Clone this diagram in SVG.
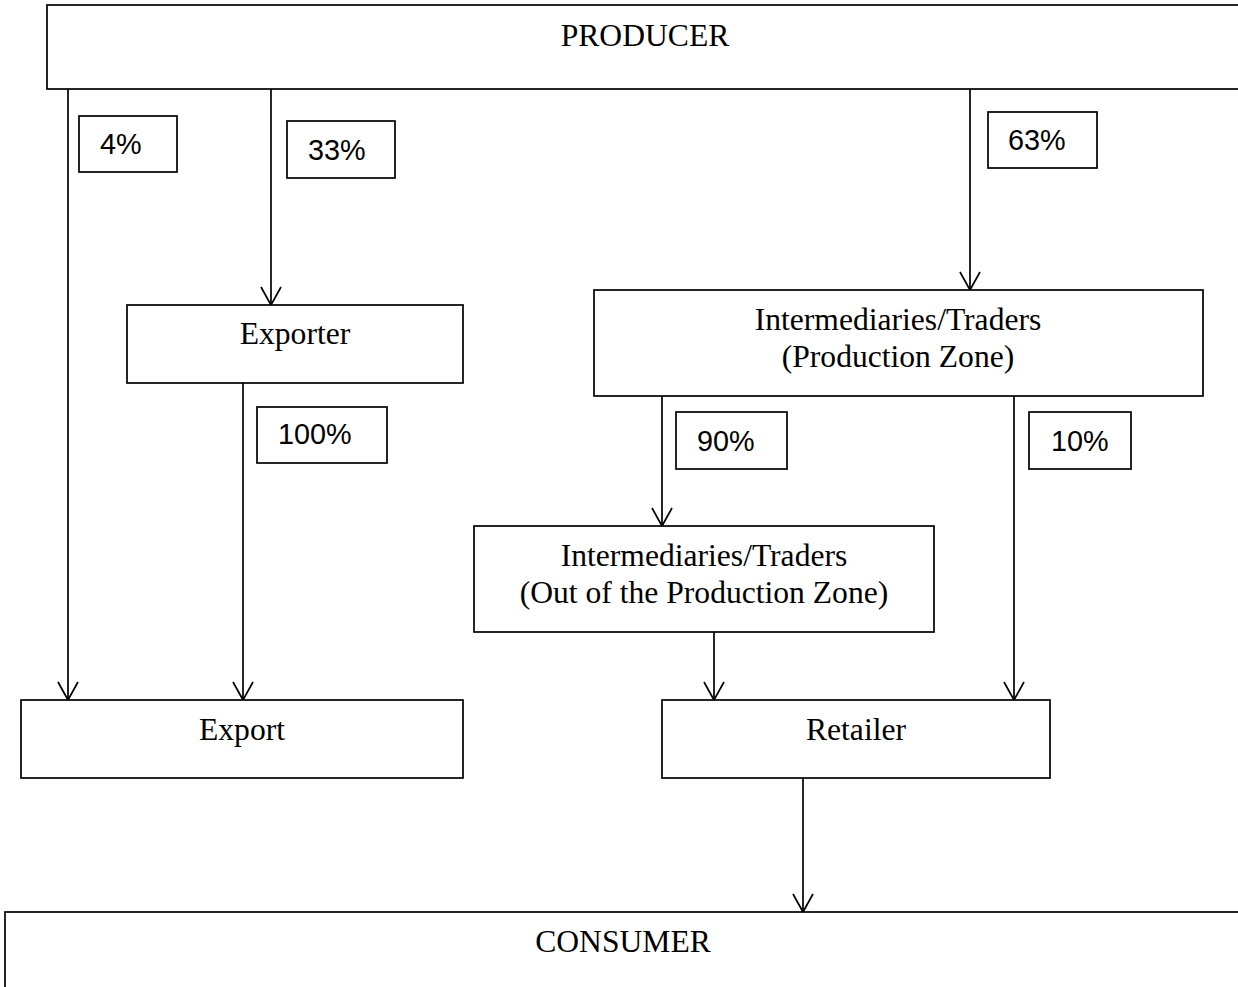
<svg xmlns="http://www.w3.org/2000/svg" width="1238" height="987" viewBox="0 0 1238 987">
<style>
.box{fill:#fff;stroke:#000;stroke-width:1.7}
.lbl{fill:#fff;stroke:#000;stroke-width:1.7}
.t{font-family:"Liberation Serif","Times New Roman",serif;font-size:31.6px;fill:#000;text-anchor:middle}
.p{font-family:"Liberation Sans",Arial,sans-serif;font-size:28.8px;fill:#000}
.c{stroke:#000;stroke-width:1.7;fill:none}
</style>
<defs>
<marker id="ah" markerWidth="24" markerHeight="22" refX="11" refY="19" orient="0" markerUnits="userSpaceOnUse">
<path d="M1,1 L11,19 L21,1" fill="none" stroke="#000" stroke-width="1.7"/>
</marker>
</defs>
<rect width="1238" height="987" fill="#fff"/>
<g id="connectors">
<line class="c" x1="68" y1="89" x2="68" y2="700" marker-end="url(#ah)"/>
<line class="c" x1="271" y1="89" x2="271" y2="305" marker-end="url(#ah)"/>
<line class="c" x1="970" y1="89" x2="970" y2="290" marker-end="url(#ah)"/>
<line class="c" x1="243" y1="383" x2="243" y2="700" marker-end="url(#ah)"/>
<line class="c" x1="662" y1="396" x2="662" y2="526" marker-end="url(#ah)"/>
<line class="c" x1="1014" y1="396" x2="1014" y2="700" marker-end="url(#ah)"/>
<line class="c" x1="714" y1="632" x2="714" y2="700" marker-end="url(#ah)"/>
<line class="c" x1="803" y1="778" x2="803" y2="912" marker-end="url(#ah)"/>
</g>
<g id="producer">
<rect class="box" x="47" y="5" width="1200" height="84"/>
<text class="t" x="645" y="46">PRODUCER</text>
</g>
<g id="label-4">
<rect class="lbl" x="79" y="116" width="98" height="56"/>
<text class="p" x="100" y="154">4%</text>
</g>
<g id="label-33">
<rect class="lbl" x="287" y="121" width="108" height="57"/>
<text class="p" x="308" y="160">33%</text>
</g>
<g id="label-63">
<rect class="lbl" x="988" y="112" width="109" height="56"/>
<text class="p" x="1008" y="150">63%</text>
</g>
<g id="exporter">
<rect class="box" x="127" y="305" width="336" height="78"/>
<text class="t" x="295" y="344">Exporter</text>
</g>
<g id="label-100">
<rect class="lbl" x="257" y="407" width="130" height="56"/>
<text class="p" x="278" y="444">100%</text>
</g>
<g id="intermediaries-pz">
<rect class="box" x="594" y="290" width="609" height="106"/>
<text class="t" x="898" y="330">Intermediaries/Traders</text>
<text class="t" x="898" y="367">(Production Zone)</text>
</g>
<g id="label-90">
<rect class="lbl" x="676" y="412" width="111" height="57"/>
<text class="p" x="697" y="451">90%</text>
</g>
<g id="label-10">
<rect class="lbl" x="1029" y="412" width="102" height="57"/>
<text class="p" x="1051" y="451">10%</text>
</g>
<g id="intermediaries-out">
<rect class="box" x="474" y="526" width="460" height="106"/>
<text class="t" x="704" y="566">Intermediaries/Traders</text>
<text class="t" x="704" y="603">(Out of the Production Zone)</text>
</g>
<g id="export">
<rect class="box" x="21" y="700" width="442" height="78"/>
<text class="t" x="242" y="740">Export</text>
</g>
<g id="retailer">
<rect class="box" x="662" y="700" width="388" height="78"/>
<text class="t" x="856" y="740">Retailer</text>
</g>
<g id="consumer">
<rect class="box" x="5" y="912" width="1250" height="100"/>
<text class="t" x="623" y="952">CONSUMER</text>
</g>
</svg>
